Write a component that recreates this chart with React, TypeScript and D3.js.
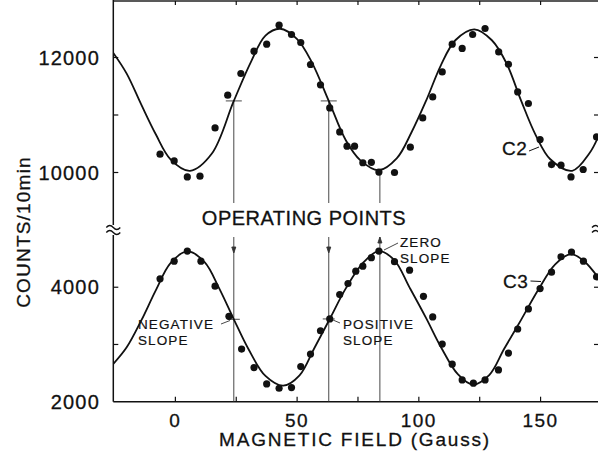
import React from "react";
import * as d3 from "d3";

const c2Dots: [number, number][] = [
  [-6.3, 10318], [-0.5, 10202], [4.9, 9923], [10.1, 9936], [16.3, 10776],
  [21.5, 11344], [26.9, 11722], [32.3, 12110], [37.5, 12231], [42.6, 12562],
  [47.7, 12400], [51.5, 12261], [55.5, 11878], [59.6, 11524], [63.4, 11123],
  [67.5, 10706], [70.5, 10457], [73.6, 10457], [77, 10170], [80.5, 10177],
  [83.6, 10007], [90, 10000], [96.5, 10440], [101.6, 10950], [105.7, 11315],
  [109.6, 11750], [113.7, 12231], [117.8, 12157], [122.1, 12400], [127.2, 12504],
  [132.8, 12097], [136.8, 11883], [140.6, 11402], [145, 11200], [149.8, 10574],
  [154.5, 10137], [158.4, 10127], [162.5, 9923], [167.5, 10052], [173, 10619],
];

const c3Dots: [number, number][] = [
  [-6.3, 4147], [-0.5, 4456], [4.9, 4632], [10.5, 4456], [16.3, 4018],
  [22, 3491], [27.2, 2919], [32.3, 2596], [37.5, 2311], [42.6, 2235],
  [47.7, 2246], [51.5, 2614], [55.5, 2832], [59.6, 3240], [63.4, 3446],
  [67.5, 3872], [70.9, 4065], [74.1, 4281], [77, 4368], [80.5, 4516],
  [83.6, 4632], [90, 4446], [96.2, 4298], [101.9, 3842], [105.7, 3481],
  [109.6, 3007], [113.7, 2656], [117.8, 2381], [122.4, 2323], [127.2, 2381],
  [132.7, 2556], [136.8, 2849], [140.6, 3270], [145, 3621], [149.8, 3977],
  [154.5, 4263], [158.4, 4533], [162.7, 4614], [167.6, 4456], [173, 4182],
];

// Points
const c2Fit: [number, number][] = [
  [-25.5, 12080], [-20, 11720], [-14, 11180], [-8, 10660], [-2, 10230],
  [6, 10030], [15, 10330], [24, 11245], [31, 11920], [37, 12380],
  [43, 12500], [50, 12320], [56, 11920], [63, 11245], [70, 10560],
  [76, 10210], [83.6, 10040], [91, 10250], [97, 10700], [103, 11250],
  [109, 11860], [115, 12300], [122.8, 12490], [130, 12300], [136, 11900],
  [142, 11250], [148, 10650], [154, 10230], [163, 10030], [170, 10330],
  [174, 10650],
];

const c3Fit: [number, number][] = [
  [-25.5, 2660], [-20, 2950], [-14, 3420], [-8, 3950], [-2, 4420],
  [4.9, 4625], [12, 4440], [18, 3980], [24, 3440], [30, 2920],
  [37, 2450], [44.3, 2280], [51, 2460], [57, 2930], [63.4, 3446],
  [70, 3980], [77, 4420], [83.6, 4632], [90, 4470], [96, 4010],
  [103, 3460], [109, 2960], [116, 2480], [122.1, 2300], [129, 2470],
  [135, 2920], [142, 3430], [149, 3950], [156, 4400], [162.5, 4580],
  [168, 4450], [174, 4150],
];

// Operating points
const opField = [24, 63, 84];
const opC2 = [11245, 11245, 10030];
const opC3 = [3440, 3446, 4632];

const xTicks = [0, 25, 50, 75, 100, 125, 150];
const xTickLabels = [0, 50, 100, 150];
const topTicks = [10000, 11000, 12000];
const topLabels = [10000, 12000];
const botTicks = [3000, 4000];
const botLabels = [2000, 4000];

const FONT = "'Liberation Sans', Arial, Helvetica, sans-serif";

const App = () => {
  const x = d3.scaleLinear().domain([-25.5, 174]).range([113.3, 599]);
  const yTop = d3.scaleLinear().domain([9000, 13000]).range([230, 0]);
  const yBot = d3.scaleLinear().domain([2000, 5000]).range([401.7, 230]);

  const left = x(-25.5);
  const right = x(174);
  const bottom = yBot(2000);
  const breakY = 230;

  const lineTop = d3.line<[number, number]>()
    .x(d => x(d[0]))
    .y(d => yTop(d[1]))
    .curve(d3.curveCatmullRom);
  const lineBot = d3.line<[number, number]>()
    .x(d => x(d[0]))
    .y(d => yBot(d[1]))
    .curve(d3.curveCatmullRom);

  const tilde = (cx: number, cy: number) =>
    `M${cx - 7},${cy} q3.5,-4 7,0 t7,0`;

  // light stroke to give the text the heavier look of the print
  const txt = { fill: "#111", stroke: "#111", strokeWidth: 0.3 };

  return (
    <svg width={598} height={459} style={{ position: "absolute", left: 0, top: 0, background: "#fff" }}
      fontFamily={FONT}>
      <defs>
        <clipPath id="plot">
          <rect x={left} y={0} width={right - left} height={bottom} />
        </clipPath>
      </defs>

      {/* frame */}
      <line x1={left} x2={right} y1={1} y2={1} stroke="#222" strokeWidth={1.3} />
      <line x1={left} x2={right} y1={bottom} y2={bottom} stroke="#111" strokeWidth={1.5} />
      <line x1={left} x2={left} y1={0} y2={breakY - 5} stroke="#111" strokeWidth={1.5} />
      <line x1={left} x2={left} y1={breakY + 5} y2={bottom} stroke="#111" strokeWidth={1.5} />
      <line x1={right} x2={right} y1={0} y2={bottom} stroke="#111" strokeWidth={1.5} />
      <path d={tilde(left, breakY - 2.5)} fill="none" stroke="#111" strokeWidth={1.3} />
      <path d={tilde(left, breakY + 2.5)} fill="none" stroke="#111" strokeWidth={1.3} />
      <path d={tilde(right, breakY - 2.5)} fill="none" stroke="#111" strokeWidth={1.3} />
      <path d={tilde(right, breakY + 2.5)} fill="none" stroke="#111" strokeWidth={1.3} />

      {/* x ticks (inside, bottom and top) */}
      {xTicks.map(t => (
        <g key={"xt" + t}>
          <line x1={x(t)} x2={x(t)} y1={bottom} y2={bottom - 5} stroke="#111" strokeWidth={1.2} />
          <line x1={x(t)} x2={x(t)} y1={1} y2={5} stroke="#111" strokeWidth={1.2} />
        </g>
      ))}
      {xTickLabels.map(t => (
        <text key={"xl" + t} x={x(t)} y={427} textAnchor="middle" fontSize={19}
          letterSpacing={1.5} {...txt}>{t}</text>
      ))}

      {/* y ticks */}
      {topTicks.map(t => (
        <g key={"tt" + t}>
          <line x1={left} x2={left + 5} y1={yTop(t)} y2={yTop(t)} stroke="#111" strokeWidth={1.2} />
          <line x1={right} x2={right - 5} y1={yTop(t)} y2={yTop(t)} stroke="#111" strokeWidth={1.2} />
        </g>
      ))}
      {botTicks.map(t => (
        <g key={"bt" + t}>
          <line x1={left} x2={left + 5} y1={yBot(t)} y2={yBot(t)} stroke="#111" strokeWidth={1.2} />
          <line x1={right} x2={right - 5} y1={yBot(t)} y2={yBot(t)} stroke="#111" strokeWidth={1.2} />
        </g>
      ))}
      {topLabels.map(t => (
        <text key={"tl" + t} x={100} y={yTop(t)} textAnchor="end" dominantBaseline="central"
          fontSize={20} letterSpacing={1.2} {...txt}>{t}</text>
      ))}
      {botLabels.map(t => (
        <text key={"bl" + t} x={100} y={yBot(t)} textAnchor="end" dominantBaseline="central"
          fontSize={20} letterSpacing={1.2} {...txt}>{t}</text>
      ))}

      {/* axis titles */}
      <text x={355} y={446} textAnchor="middle" fontSize={19} letterSpacing={1.8} {...txt}>
        MAGNETIC FIELD (Gauss)
      </text>
      <text transform="translate(23,232) rotate(-90)" textAnchor="middle" dominantBaseline="central"
        fontSize={19} letterSpacing={1.2} {...txt}>COUNTS/10min</text>

      {/* operating point markers */}
      {opField.map((f, i) => (
        <g key={"op" + f} stroke="#333" strokeWidth={0.9}>
          <line x1={x(f)} x2={x(f)} y1={yTop(opC2[i])} y2={203} />
          <line x1={x(f)} x2={x(f)} y1={237} y2={bottom} />
          {i < 2 && (
            <>
              <line x1={x(f) - 8} x2={x(f) + 8} y1={yTop(opC2[i])} y2={yTop(opC2[i])} />
              <line x1={x(f) - 6} x2={x(f) + 6} y1={yBot(opC3[i])} y2={yBot(opC3[i])} />
              <path d={`M${x(f) - 2},${247} L${x(f) + 2},${247} L${x(f)},${253} Z`} fill="#333" />
            </>
          )}
          {i === 2 && (
            <path d={`M${x(f) - 2},${243} L${x(f) + 2},${243} L${x(f)},${237} Z`} fill="#333" />
          )}
        </g>
      ))}

      {/* curves and dots */}
      <g clipPath="url(#plot)">
        <path d={lineTop(c2Fit) ?? ""} fill="none" stroke="#111" strokeWidth={1.8} />
        <path d={lineBot(c3Fit) ?? ""} fill="none" stroke="#111" strokeWidth={1.8} />
        {c2Dots.map((d, i) => (
          <circle key={"c2" + i} cx={x(d[0])} cy={yTop(d[1])} r={3.6} fill="#111" />
        ))}
        {c3Dots.map((d, i) => (
          <circle key={"c3" + i} cx={x(d[0])} cy={yBot(d[1])} r={3.6} fill="#111" />
        ))}
      </g>

      {/* annotations */}
      <text x={304} y={225} textAnchor="middle" fontSize={20} letterSpacing={0.5} {...txt}>
        OPERATING POINTS
      </text>

      <text x={502} y={155} fontSize={19} letterSpacing={0.5} {...txt}>C2</text>
      <line x1={529} x2={539} y1={151} y2={147} stroke="#111" strokeWidth={1} />
      <text x={503} y={288} fontSize={19} letterSpacing={0.5} {...txt}>C3</text>
      <line x1={530.5} x2={541} y1={281} y2={281.5} stroke="#111" strokeWidth={1} />

      <g fontSize={13.5} letterSpacing={1.1} {...txt} strokeWidth={0.2}>
        <text x={138} y={329}>NEGATIVE</text>
        <text x={138} y={344.5}>SLOPE</text>
        <text x={343} y={329}>POSITIVE</text>
        <text x={343} y={344.5}>SLOPE</text>
        <text x={400} y={247}>ZERO</text>
        <text x={400} y={262.5}>SLOPE</text>
      </g>
      <g stroke="#333" strokeWidth={0.9}>
        <line x1={221} x2={230} y1={324} y2={320.5} />
        <line x1={333} x2={340} y1={320} y2={323} />
        <line x1={384} x2={398} y1={250} y2={243} />
      </g>
    </svg>
  );
};

export default App;
